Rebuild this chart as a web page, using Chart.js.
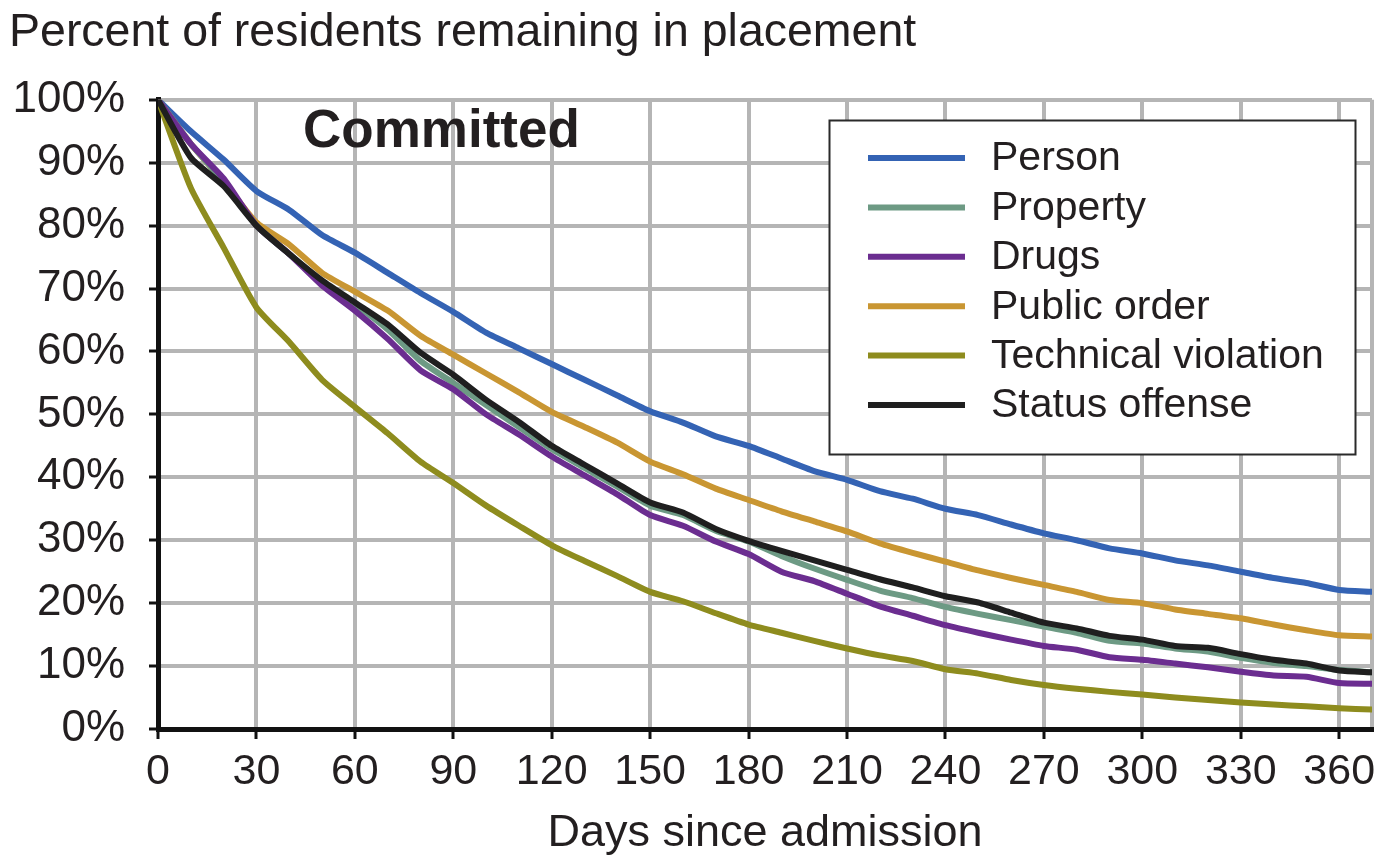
<!DOCTYPE html>
<html>
<head>
<meta charset="utf-8">
<script src="https://cdn.jsdelivr.net/npm/chart.js@4.4.0/dist/chart.umd.min.js"></script>
<style>
  html, body { margin: 0; padding: 0; background: #fff; }
</style>
</head>
<body>
<canvas id="myChart" width="1379" height="856"></canvas>
<script>
// days since admission (read every 10 days)
const days = [0, 10, 20, 30, 40, 50, 60, 70, 80, 90, 100, 110, 120, 130, 140, 150, 160, 170, 180,
  190, 200, 210, 220, 230, 240, 250, 260, 270, 280, 290, 300, 310, 320, 330, 340, 350, 360, 370];
const xTicks = [0, 30, 60, 90, 120, 150, 180, 210, 240, 270, 300, 330, 360, 370];

// percent remaining in placement
const person = [100, 95, 90.5, 85.5, 82.5, 78.5, 75.7, 72.5, 69.3, 66.3, 63, 60.5, 58, 55.5, 53, 50.5, 48.7, 46.5, 45,
  43, 41, 39.6, 37.8, 36.6, 35, 34, 32.5, 31.1, 30, 28.7, 27.9, 26.8, 26, 25, 24, 23.2, 22.1, 21.8];
const property = [100, 93, 87, 80, 75.5, 71, 67.5, 63.5, 58.5, 55, 51.5, 48, 44.5, 41.5, 38.5, 35.5, 34, 31.5, 29.8,
  27.5, 25.5, 23.7, 22, 20.8, 19.4, 18.3, 17.3, 16.3, 15.3, 14, 13.6, 12.8, 12.3, 11.3, 10.5, 10, 9.4, 9];
const drugs = [100, 93, 87.5, 80, 75.5, 70.5, 66.5, 62, 57, 54, 50, 46.8, 43.3, 40.3, 37.3, 34, 32.3, 29.8, 27.8,
  25, 23.5, 21.5, 19.5, 18, 16.5, 15.3, 14.2, 13.2, 12.6, 11.4, 11, 10.4, 9.8, 9.1, 8.5, 8.3, 7.3, 7.2];
const publicOrder = [100, 93, 87, 80.5, 77, 72.5, 69.5, 66.5, 62.5, 59.5, 56.5, 53.5, 50.4, 48, 45.5, 42.5, 40.5, 38.2, 36.4,
  34.6, 33, 31.4, 29.5, 28, 26.6, 25.2, 24, 22.9, 21.8, 20.5, 20, 19, 18.3, 17.6, 16.6, 15.7, 14.9, 14.7];
const technical = [100, 86, 76.5, 67, 61.5, 55.5, 51.2, 47, 42.5, 39.1, 35.5, 32.3, 29.2, 26.7, 24.3, 21.8, 20.3, 18.4, 16.6,
  15.3, 14, 12.8, 11.7, 10.8, 9.5, 8.8, 7.8, 7, 6.4, 5.9, 5.5, 5, 4.6, 4.2, 3.9, 3.6, 3.3, 3.1];
const statusOffense = [100, 90.8, 86.3, 80, 75.5, 71.3, 67.8, 64.3, 59.8, 56.3, 52.3, 48.8, 45, 42, 39, 36, 34.4, 31.8, 29.9,
  28.3, 26.8, 25.3, 23.8, 22.5, 21.1, 20.1, 18.5, 16.9, 16, 14.8, 14.2, 13.2, 12.9, 11.9, 11, 10.4, 9.3, 9];

const labels = ['Person', 'Property', 'Drugs', 'Public order', 'Technical violation', 'Status offense'];
const series = [person, property, drugs, publicOrder, technical, statusOffense];
const colors = ['#3463b4', '#6d9a84', '#6b2d90', '#c99632', '#8e8c1e', '#1f1f1f'];
const drawOrder = [6, 3, 2, 4, 5, 1]; // lower = drawn on top

const FONT = '"Liberation Sans", Arial, Helvetica, sans-serif';
const TEXT = '#231f20';

const datasets = series.map((s, i) => ({
  label: labels[i],
  data: s.map((v, j) => ({ x: days[j], y: v })),
  borderColor: colors[i],
  backgroundColor: colors[i],
  borderWidth: 6,
  pointRadius: 0,
  tension: 0.2,
  borderJoinStyle: 'round',
  borderCapStyle: 'round',
  order: drawOrder[i],
  fill: false
}));

// "Committed" label and the boxed legend
const boxPlugin = {
  id: 'boxPlugin',
  afterDatasetsDraw(chart) {
    const ctx = chart.ctx;
    const area = chart.chartArea;
    ctx.save();
    ctx.fillStyle = TEXT;
    ctx.font = 'bold 53px ' + FONT;
    ctx.textBaseline = 'middle';
    ctx.textAlign = 'left';
    ctx.fillText('Committed', area.left + 145, area.top + 33);

    const bx = 829.5, by = 120.5, bw = 526, bh = 334;
    ctx.fillStyle = '#fff';
    ctx.fillRect(bx, by, bw, bh);
    ctx.strokeStyle = '#2a2a2a';
    ctx.lineWidth = 2;
    ctx.strokeRect(bx, by, bw, bh);

    ctx.font = '41px ' + FONT;
    chart.data.datasets.forEach((ds, i) => {
      const y = 158 + i * 49.4;
      ctx.strokeStyle = ds.borderColor;
      ctx.lineWidth = 6;
      ctx.beginPath();
      ctx.moveTo(868, y);
      ctx.lineTo(965, y);
      ctx.stroke();
      ctx.fillStyle = TEXT;
      ctx.fillText(ds.label, 991, y + 1);
    });
    ctx.restore();
  }
};

const ctx = document.getElementById('myChart').getContext('2d');
const chart = new Chart(ctx, {
  type: 'line',
  data: { datasets: datasets },
  plugins: [boxPlugin],
  options: {
    responsive: false,
    animation: false,
    layout: { padding: { left: 9, right: 3, top: 0, bottom: 0 } },
    plugins: {
      legend: { display: false },
      tooltip: { enabled: false },
      title: {
        display: true,
        text: 'Percent of residents remaining in placement',
        align: 'start',
        color: TEXT,
        font: { family: FONT, size: 46.5, weight: 'normal', lineHeight: 1.2 },
        padding: { top: 5, bottom: 39 }
      }
    },
    scales: {
      x: {
        type: 'linear',
        min: 0,
        max: 370,
        afterFit: s => { s.height = 127; },
        afterBuildTicks: s => { s.ticks = xTicks.map(v => ({ value: v })); },
        ticks: {
          color: TEXT,
          font: { family: FONT, size: 43 },
          padding: 7,
          maxRotation: 0,
          autoSkip: false,
          callback: v => (v % 30 === 0 ? String(v) : '')
        },
        grid: {
          color: '#b5b5b5',
          lineWidth: 4,
          tickLength: 10,
          tickWidth: 3,
          tickColor: c => (c.tick && c.tick.value % 30 === 0 ? '#111' : 'rgba(0,0,0,0)')
        },
        border: { color: '#111', width: 5 },
        title: {
          display: true,
          text: 'Days since admission',
          color: TEXT,
          font: { family: FONT, size: 45, lineHeight: 1 },
          padding: { top: 0, bottom: 0 }
        }
      },
      y: {
        min: 0,
        max: 100,
        afterFit: s => { s.width = 149; },
        ticks: {
          stepSize: 10,
          color: TEXT,
          font: { family: FONT, size: 44 },
          padding: 24,
          callback: v => v + '%'
        },
        grid: {
          color: '#b5b5b5',
          lineWidth: 4,
          tickLength: 9,
          tickWidth: 3,
          tickColor: '#111'
        },
        border: { color: '#111', width: 5 }
      }
    }
  }
});
</script>
</body>
</html>
